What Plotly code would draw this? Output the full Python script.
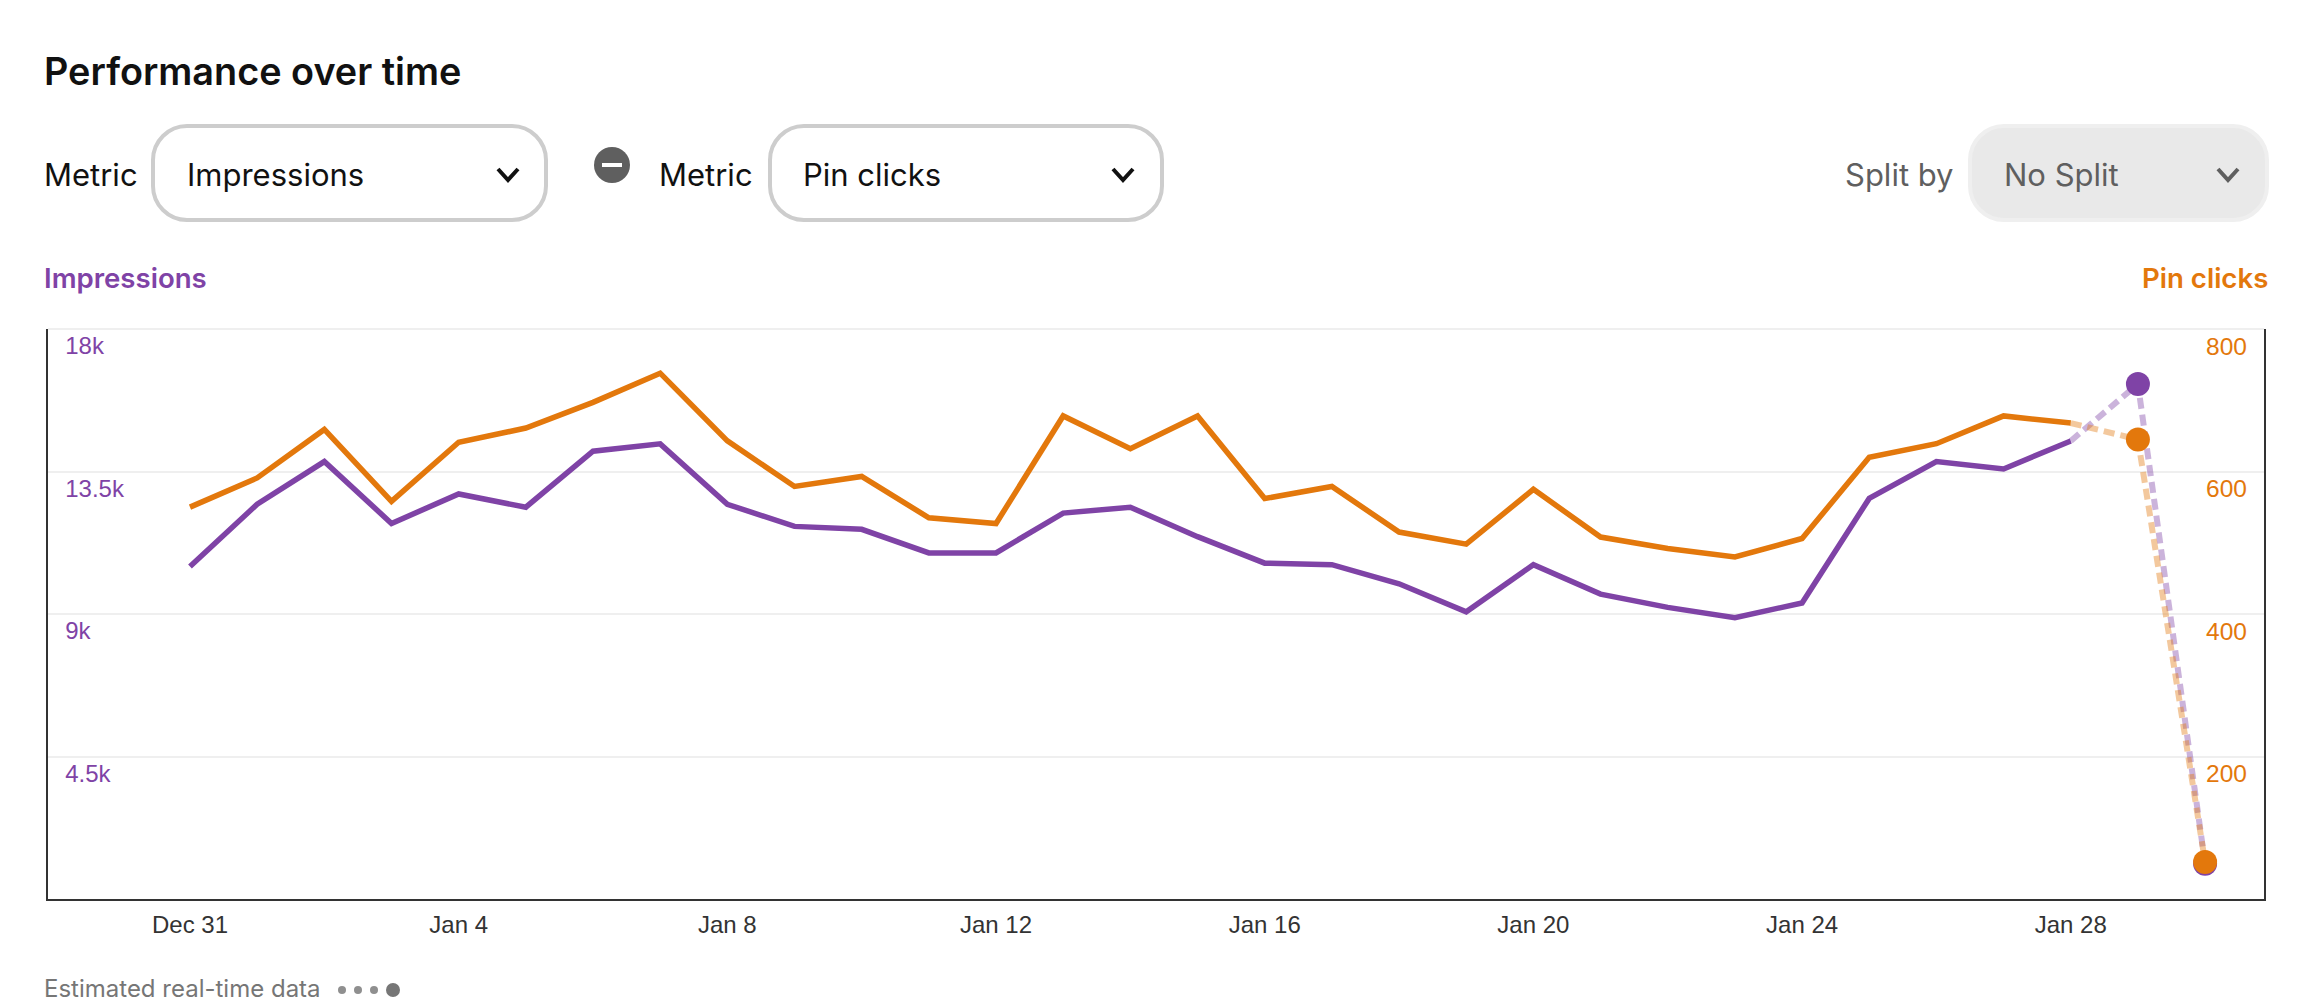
import plotly.graph_objects as go

# ---- data ----
dates = ["2022-12-31"] + [f"2023-01-{d:02d}" for d in range(1, 31)]
impressions = [10500, 12465, 13814, 11860, 12790, 12372, 14140, 14372, 12465, 11767,
               11674, 10930, 10930, 12186, 12372, 11442, 10605, 10558, 9953, 9070,
               10558, 9628, 9209, 8884, 9349, 12651, 13814, 13581, 14465, 16263, 1116]
pin_clicks = [550, 591, 659, 558, 641, 661, 697, 738, 643, 579,
              593, 535, 527, 678, 632, 678, 562, 579, 515, 498,
              575, 508, 492, 480, 506, 620, 639, 678, 668, 645, 52]
left_ticks = [4500, 9000, 13500, 18000]
left_labels = ["4.5k", "9k", "13.5k", "18k"]
right_ticks = [200, 400, 600, 800]
right_labels = ["200", "400", "600", "800"]

PURPLE = "#7f43a6"
ORANGE = "#e3780c"
GREY = "#5f5f5f"
DARK = "#333333"
SANS = "Inter"
TICK = "Liberation Sans"
W, H = 2308, 1006
L, R, T, B = 48, 2264, 329, 899
SOLID = 29  # last real-data point count


def px(x):
    return (x - L) / (R - L)


def py(y):
    return (B - y) / (B - T)


def rrect(x0, y0, x1, y1, r, fill, line, lw):
    k = r * 0.45
    p = (f"M {px(x0 + r)} {py(y0)} L {px(x1 - r)} {py(y0)} "
         f"C {px(x1 - k)} {py(y0)} {px(x1)} {py(y0 + k)} {px(x1)} {py(y0 + r)} "
         f"L {px(x1)} {py(y1 - r)} "
         f"C {px(x1)} {py(y1 - k)} {px(x1 - k)} {py(y1)} {px(x1 - r)} {py(y1)} "
         f"L {px(x0 + r)} {py(y1)} "
         f"C {px(x0 + k)} {py(y1)} {px(x0)} {py(y1 - k)} {px(x0)} {py(y1 - r)} "
         f"L {px(x0)} {py(y0 + r)} "
         f"C {px(x0)} {py(y0 + k)} {px(x0 + k)} {py(y0)} {px(x0 + r)} {py(y0)} Z")
    return dict(type="path", xref="paper", yref="paper", path=p, fillcolor=fill,
                line=dict(color=line, width=lw), layer="above")


def chevron(cx, cy, color):
    p = (f"M {px(cx - 10)} {py(cy - 5)} L {px(cx)} {py(cy + 6)} L {px(cx + 10)} {py(cy - 5)}")
    return dict(type="path", xref="paper", yref="paper", path=p,
                line=dict(color=color, width=4), layer="above")


def dot(cx, cy, r, color):
    return dict(type="circle", xref="paper", yref="paper", x0=px(cx - r), x1=px(cx + r),
                y0=py(cy + r), y1=py(cy - r), fillcolor=color, line=dict(width=0), layer="above")


def text(x, y, s, size, color, anchor="left", weight=400, family=SANS):
    return dict(xref="paper", yref="paper", x=px(x), y=py(y), text=s, showarrow=False,
                xanchor=anchor, yanchor="middle", align=anchor,
                font=dict(size=size, color=color, family=family, weight=weight))


fig = go.Figure()

fig.add_trace(go.Scatter(x=dates[SOLID - 1:], y=impressions[SOLID - 1:], mode="lines",
                         line=dict(color=PURPLE, width=6, dash="11px,6px"), opacity=0.4,
                         yaxis="y", showlegend=False, hoverinfo="skip"))
fig.add_trace(go.Scatter(x=dates[:SOLID], y=impressions[:SOLID], mode="lines",
                         line=dict(color=PURPLE, width=5.5), yaxis="y", showlegend=False))
fig.add_trace(go.Scatter(x=dates[SOLID:], y=impressions[SOLID:], mode="markers",
                         marker=dict(color=PURPLE, size=24), yaxis="y", showlegend=False))
fig.add_trace(go.Scatter(x=dates[SOLID - 1:], y=pin_clicks[SOLID - 1:], mode="lines",
                         line=dict(color=ORANGE, width=6, dash="11px,6px"), opacity=0.4,
                         yaxis="y2", showlegend=False, hoverinfo="skip"))
fig.add_trace(go.Scatter(x=dates[:SOLID], y=pin_clicks[:SOLID], mode="lines",
                         line=dict(color=ORANGE, width=5.5), yaxis="y2", showlegend=False))
fig.add_trace(go.Scatter(x=dates[SOLID:], y=pin_clicks[SOLID:], mode="markers",
                         marker=dict(color=ORANGE, size=24), yaxis="y2", showlegend=False))

shapes = [
    dict(type="line", xref="paper", yref="paper", x0=0, x1=1, y0=1, y1=1,
         line=dict(color="#efefef", width=2), layer="below"),
    rrect(153, 126, 546, 220, 34, "white", "#cdcdcd", 4),
    chevron(508, 174, "#111111"),
    dot(612, 165, 18, GREY),
    dict(type="line", xref="paper", yref="paper", x0=px(602), x1=px(622), y0=py(165), y1=py(165),
         line=dict(color="white", width=4), layer="above"),
    rrect(770, 126, 1162, 220, 34, "white", "#cdcdcd", 4),
    chevron(1123, 174, "#111111"),
    rrect(1970, 126, 2267, 220, 34, "#e9e9e9", "#efefef", 4),
    chevron(2228, 174, GREY),
    dot(342, 990, 4, "#8f8f8f"),
    dot(358, 990, 4, "#8f8f8f"),
    dot(374, 990, 4, "#8f8f8f"),
    dot(393, 990, 7, "#767676"),
]

annotations = [
    text(42, 71, "Performance over time", 37.8, "#111111", weight=600),
    text(42, 174, "Metric", 31, "#111111"),
    text(185, 174, "Impressions", 31, "#111111"),
    text(657, 174, "Metric", 31, "#111111"),
    text(801, 174, "Pin clicks", 31, "#111111"),
    text(1843, 174, "Split by", 31, GREY),
    text(2002, 174, "No Split", 31, GREY),
    text(42, 278, "Impressions", 27.6, PURPLE, weight=600),
    text(2270, 278, "Pin clicks", 27.6, ORANGE, anchor="right", weight=600),
    text(42, 988, "Estimated real-time data", 24, "#767676"),
]

fig.update_layout(
    width=W, height=H, autosize=False,
    margin=dict(l=L, r=W - R, t=T, b=H - B),
    paper_bgcolor="white", plot_bgcolor="white",
    showlegend=False,
    shapes=shapes, annotations=annotations,
    xaxis=dict(type="date", range=["2022-12-28 21:16", "2023-01-30 21:03"],
               tick0="2022-12-31", dtick=4 * 86400000, tickformat="%b %-d",
               ticks="", showgrid=False, zeroline=False, showline=True,
               linecolor=DARK, linewidth=2, ticklabelstandoff=3,
               tickfont=dict(family=TICK, size=24, color=DARK)),
    yaxis=dict(range=[0, 18000], tickvals=left_ticks, ticktext=left_labels,
               side="left", ticks="", showline=True, linecolor=DARK, linewidth=2,
               gridcolor="#efefef", gridwidth=2, zeroline=False,
               ticklabelposition="inside bottom", ticklabelstandoff=18,
               tickfont=dict(family=TICK, size=24, color=PURPLE)),
    yaxis2=dict(range=[0, 800], tickvals=right_ticks, ticktext=right_labels,
                side="right", overlaying="y", ticks="", showline=True, linecolor=DARK, linewidth=2,
                showgrid=False, zeroline=False,
                ticklabelposition="inside bottom", ticklabelstandoff=18,
                tickfont=dict(family=TICK, size=24.5, color=ORANGE)),
)

fig.write_html("out.html", config=dict(displayModeBar=False),
               post_script="document.body.style.margin='0';")
